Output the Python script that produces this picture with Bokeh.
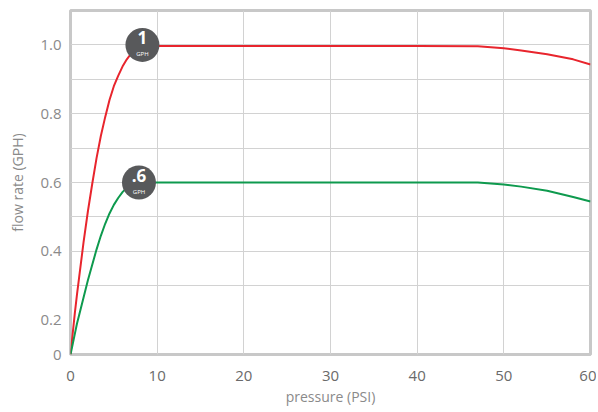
from bokeh.plotting import figure
from bokeh.models import FixedTicker, CustomJSTickFormatter, ColumnDataSource
from bokeh.core.properties import value
from bokeh.embed import file_html
from bokeh.resources import INLINE

# pressure (PSI) and flow rate (GPH, read on the chart's grid scale)
pressure = [0, 0.25, 0.5, 0.75, 1, 1.5, 2, 2.5, 3, 3.5, 4, 4.5, 5, 5.5, 6, 6.5, 7, 7.5, 8, 9, 10,
            20, 30, 40, 47, 50, 52, 55, 58, 60]
flow_1gph = [0.1, 0.16, 0.22, 0.275, 0.325, 0.425, 0.515, 0.595, 0.67, 0.735, 0.79, 0.84, 0.88, 0.91, 0.937,
             0.958, 0.975, 0.987, 0.994, 0.997, 0.997, 0.997, 0.997, 0.997, 0.996, 0.99, 0.984,
             0.973, 0.958, 0.943]
flow_06gph = [0.1, 0.13, 0.16, 0.19, 0.215, 0.265, 0.315, 0.36, 0.405, 0.445, 0.48, 0.51, 0.535,
              0.555, 0.572, 0.585, 0.594, 0.598, 0.6, 0.6, 0.6, 0.6, 0.6, 0.6, 0.6, 0.594, 0.588,
              0.576, 0.558, 0.545]

badge_x = [8.3, 7.9]
badge_y = [1.0, 0.6]
badge_big = ["1", ".6"]
badge_small = ["GPH", "GPH"]

x_ticks = [0, 10, 20, 30, 40, 50, 60]
y_ticks = [0.1, 0.2, 0.4, 0.6, 0.8, 1.0]
y_grid = [0.3, 0.4, 0.5, 0.6, 0.7, 0.8, 0.9, 1.0]
x_grid = [10, 20, 30, 40, 50]

FONT = "Open Sans"

p = figure(frame_width=520, frame_height=344, x_range=(0, 60), y_range=(0.1, 1.1),
           output_backend="svg", toolbar_location=None,
           min_border_left=70, min_border_right=6, min_border_top=10, min_border_bottom=56)
p.outline_line_color = "#c8c8c8"
p.outline_line_width = 3
p.background_fill_color = "white"
p.border_fill_color = "white"

p.xgrid.ticker = FixedTicker(ticks=x_grid)
p.ygrid.ticker = FixedTicker(ticks=y_grid)
p.grid.grid_line_color = "#d2d2d2"
p.grid.grid_line_width = 1

p.xaxis.ticker = FixedTicker(ticks=x_ticks)
p.yaxis.ticker = FixedTicker(ticks=y_ticks)
p.yaxis.formatter = CustomJSTickFormatter(code="return tick < 0.15 ? '0' : tick.toFixed(1);")
for ax in (p.xaxis, p.yaxis):
    ax.axis_line_color = None
    ax.major_tick_line_color = None
    ax.minor_tick_line_color = None
    ax.major_tick_out = 0
    ax.major_tick_in = 0
    ax.minor_tick_out = 0
    ax.minor_tick_in = 0
    ax.major_label_text_font = FONT
    ax.major_label_text_font_size = "15px"
    ax.axis_label_text_font = FONT
    ax.axis_label_text_font_size = "14px"
    ax.axis_label_text_font_style = "normal"
    ax.axis_label_text_color = "#8a8a8a"
p.xaxis.major_label_text_color = "#6a6a6a"
p.yaxis.major_label_text_color = "#8a8a8a"
p.xaxis.major_label_standoff = 16
p.yaxis.major_label_standoff = 9
p.xaxis.axis_label = "pressure (PSI)"
p.yaxis.axis_label = "flow rate (GPH)"
p.xaxis.axis_label_standoff = 3
p.yaxis.axis_label_standoff = 10

p.line(pressure, flow_1gph, line_color="#e8252d", line_width=2)
p.line(pressure, flow_06gph, line_color="#0e9a4e", line_width=2)

src = ColumnDataSource(dict(x=badge_x, y=badge_y, big=badge_big, small=badge_small))
p.scatter("x", "y", source=src, size=34, marker="circle", fill_color="#58595b", line_color=None)
p.text("x", "y", text="big", source=src, text_font=value(FONT), text_font_size="17px",
       text_font_style="bold", text_color="white", text_align="center", text_baseline="middle",
       y_offset=-7)
p.text("x", "y", text="small", source=src, text_font=value(FONT), text_font_size="6px",
       text_color="white", text_align="center", text_baseline="middle", y_offset=9)

open("out.html", "w").write(file_html(p, INLINE))
